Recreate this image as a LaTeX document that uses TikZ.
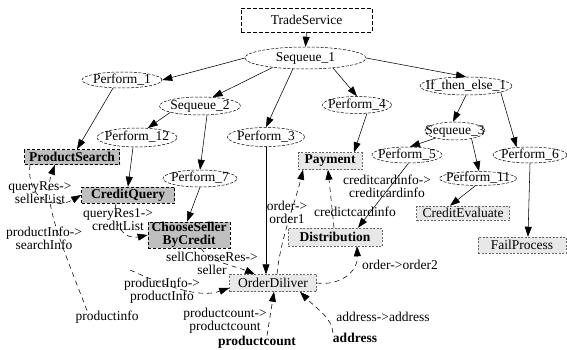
\documentclass[tikz,border=0pt]{standalone}
\usepackage{fontspec}
\setmainfont{Liberation Serif}
\usetikzlibrary{shapes.geometric,arrows.meta}
\newcommand\ZB[1]{\makebox[0pt]{#1}}
\begin{document}
\begin{tikzpicture}[x=1pt,y=-1pt,
  every node/.style={font=\fontsize{13.5}{13}\selectfont, inner sep=0pt},
  ell/.style={ellipse, draw, dash pattern=on 3pt off 1.5pt, line width=0.5pt, fill=white,
    text height=8pt, text depth=1.5pt},
  tsbox/.style={rectangle, draw, dash pattern=on 4pt off 2pt, line width=0.5pt, fill=white},
  dbox/.style={rectangle, draw, densely dashed, line width=0.6pt, fill=gray!50, font=\fontsize{13.5}{13}\selectfont\bfseries},
  lbox/.style={rectangle, draw=gray!80!black, dash pattern=on 2pt off 1.5pt, line width=0.5pt, fill=gray!18},
  lbl/.style={align=center},
  arr/.style={-{Triangle[length=10pt,width=7pt]}, line width=0.55pt},
  darr/.style={-{Triangle[length=10pt,width=7pt]}, line width=0.55pt, dash pattern=on 5pt off 4pt}
]
\useasboundingbox (0,0) rectangle (567,350);

% operation / control nodes
\node[tsbox, minimum width=131pt, minimum height=24pt] (ts) at (306.5,20) {TradeService};
\node[ell, minimum width=121pt, minimum height=22pt] (s1) at (305.5,58) {\ZB{Sequeue\_1}};
\node[ell, minimum width=80pt, minimum height=16pt] (p1) at (122,80) {\ZB{Perform\_1}};
\node[ell, minimum width=81pt, minimum height=18pt] (s2) at (200,106) {\ZB{Sequeue\_2}};
\node[ell, minimum width=69pt, minimum height=17pt] (p4) at (357,105) {\ZB{Perform\_4}};
\node[ell, minimum width=92pt, minimum height=18pt] (ite) at (466,86) {\ZB{If\_then\_else\_1}};
\node[ell, minimum width=80pt, minimum height=19pt] (p12) at (137,137.5) {\ZB{Perform\_12}};
\node[ell, minimum width=77pt, minimum height=19pt] (p3) at (266,137) {\ZB{Perform\_3}};
\node[ell, minimum width=60pt, minimum height=18pt] (s3) at (455,131) {\ZB{Sequeue\_3}};
\node[ell, minimum width=70pt, minimum height=16pt] (p5) at (407,155) {\ZB{Perform\_5}};
\node[ell, minimum width=74pt, minimum height=16pt] (p6) at (530,155) {\ZB{Perform\_6}};
\node[ell, minimum width=74pt, minimum height=17pt] (p7) at (200,178.5) {\ZB{Perform\_7}};
\node[ell, minimum width=77pt, minimum height=14pt] (p11) at (478,178.5) {\ZB{Perform\_11}};

\node[dbox, minimum width=95pt, minimum height=15pt] (ps) at (72,157) {ProductSearch};
\node[dbox, minimum width=93pt, minimum height=16pt] (cq) at (128,195) {CreditQuery};
\node[dbox, align=center, minimum width=82pt, minimum height=26pt] (csb) at (189,235) {ChooseSeller\\ByCredit};
\node[lbox, minimum width=64pt, minimum height=17pt, font=\fontsize{13.5}{13}\selectfont\bfseries] (pay) at (330,161) {Payment};
\node[lbox, minimum width=94pt, minimum height=18pt, font=\fontsize{13.5}{13}\selectfont\bfseries] (dist) at (335,237) {Distribution};
\node[lbox, minimum width=93pt, minimum height=14pt] (ce) at (463,213) {CreditEvaluate};
\node[lbox, minimum width=88pt, minimum height=16pt] (fp) at (522,245) {FailProcess};
\node[lbox, minimum width=87pt, minimum height=17pt] (od) at (273,283) {OrderDiliver};

% data labels
\node[lbl] (lqr) at (40,193) {queryRes->\\sellerList};
\node[lbl] (lpi) at (44,238) {productInfo->\\searchInfo};
\node[lbl] (lqr1) at (118,220) {queryRes1->\\creditList};
\node[lbl] (lscr) at (212,263.5) {sellChooseRes->\\seller};
\node[lbl] (lpip) at (162,291) {productInfo->\\productInfo};
\node[lbl] (pinfo) at (107,317) {productinfo};
\node[lbl] (lpc) at (225,321) {productcount->\\productcount};
\node[lbl] (pcnt) at (257,342) {\textbf{productcount}};
\node[lbl] (lad) at (383,317) {address->address};
\node[lbl] (addr) at (355,338) {\textbf{address}};
\node[lbl] (lo2) at (400,265) {order->order2};
\node[lbl] (lo1) at (287,212) {order->\\order1};
\node[lbl] (lcc) at (387,186) {creditcardinfo->\\creditcardinfo};
\node[lbl] (cci) at (355,212) {credictcardinfo};

% control flow
\draw[arr] (ts.south) -- (s1.north);
\draw[arr] (s1.west) -- (p1.east);
\draw[arr] (s1.196) -- (s2.35);
\draw[arr] (s1.221) -- (p3.north);
\draw[arr] (s1.340) -- (p4.north);
\draw[arr] (s1.east) -- (ite.north);
\draw[arr] (p1.222) -- ([xshift=5pt]ps.north);
\draw[arr] (s2.192) -- (p12.41);
\draw[arr] ([xshift=7pt]s2.south) -- (p7.north);
\draw[arr] ([xshift=-4pt]p12.south) -- (cq.north);
\draw[arr] (p7.south) -- ([xshift=-2pt]csb.north);
\draw[arr] (p3.south) -- (p3.south |- od.north);
\draw[arr] (p4.-40) -- ([xshift=24pt]pay.north);
\draw[arr] (ite.south) -- ([xshift=-2pt]s3.north);
\draw[arr] (ite.-10) -- (p6.150);
\draw[arr] (s3.200) -- (p5.70);
\draw[arr] (s3.-25) -- ([xshift=1pt]p11.north);
\draw[arr] (p5.-80) -- ([xshift=23pt]dist.north);
\draw[arr] (p11.250) -- ([xshift=-13pt]ce.north);
\draw[arr] (p6.south) -- ([xshift=6pt]fp.north);

% data flow
\coordinate (pi2) at (130,270);
\draw[darr] ([xshift=-20pt]pinfo.north) .. controls (60,240) and (42,200) .. ([xshift=-17pt]ps.south);
\draw[darr] ([xshift=-42pt]ps.south) .. controls (26,200) and (55,210) .. (cq.west);
\draw[darr] ([xshift=-12pt]cq.south) .. controls (112,225) and (125,240) .. (csb.west);
\draw[darr] ([xshift=12pt]csb.south) .. controls (210,262) and (235,266) .. ([xshift=-18pt]od.north);
\draw[darr] (pi2) .. controls (170,288) and (200,298) .. ([yshift=-5pt]od.west);
\draw[darr] ([xshift=10pt]pcnt.north) -- ([xshift=1pt]od.south);
\draw[darr] ([xshift=-22pt]addr.north) .. controls (332,318) and (318,310) .. ([xshift=27pt]od.south);
\draw[darr] ([xshift=4pt]od.north) .. controls (280,240) and (296,200) .. ([xshift=-27pt]pay.south);
\draw[darr] (od.east) .. controls (340,286) and (358,272) .. ([xshift=22pt]dist.south);
\draw[darr] ([xshift=-1pt]dist.north) -- ([xshift=-2pt]pay.south);
\end{tikzpicture}
\end{document}
